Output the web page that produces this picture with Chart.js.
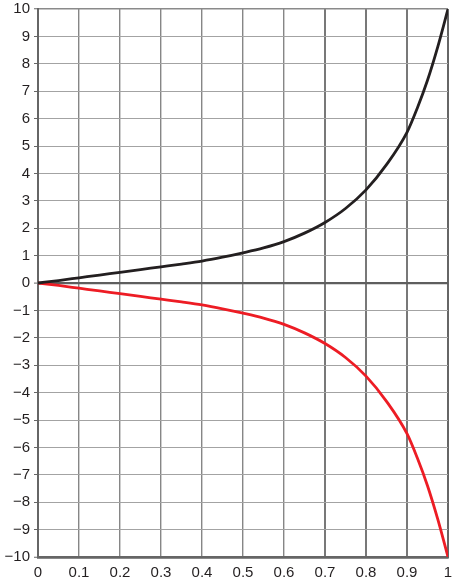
<!DOCTYPE html>
<html>
<head>
<meta charset="utf-8">
<script src="https://cdn.jsdelivr.net/npm/chart.js@4.4.1/dist/chart.umd.min.js"></script>
<style>
    html, body { margin: 0; padding: 0; background: #fff; }
    #wrap { width: 455px; height: 585px; }
</style>
</head>
<body>
<div id="wrap"><canvas id="curveChart" width="455" height="585"></canvas></div>
<script>
// values
const xValues = [0, 0.05, 0.1, 0.15, 0.2, 0.25, 0.3, 0.35, 0.4, 0.45, 0.5, 0.55, 0.6, 0.65, 0.7, 0.75, 0.8, 0.85, 0.9, 0.925, 0.95, 0.975, 1];
const upperValues = [0, 0.09, 0.19, 0.29, 0.39, 0.49, 0.59, 0.69, 0.80, 0.94, 1.10, 1.28, 1.51, 1.82, 2.21, 2.72, 3.40, 4.32, 5.50, 6.38, 7.40, 8.62, 10];
const lowerValues = [0, -0.09, -0.19, -0.29, -0.39, -0.49, -0.59, -0.69, -0.80, -0.94, -1.10, -1.28, -1.51, -1.82, -2.21, -2.72, -3.40, -4.32, -5.50, -6.38, -7.40, -8.62, -10];
const xTickLabels = ['0', '0.1', '0.2', '0.3', '0.4', '0.5', '0.6', '0.7', '0.8', '0.9', '1'];
const yTickLabels = ['10', '9', '8', '7', '6', '5', '4', '3', '2', '1', '0', '\u22121', '\u22122', '\u22123', '\u22124', '\u22125', '\u22126', '\u22127', '\u22128', '\u22129', '\u221210'];

const toPoints = (ys) => xValues.map((x, i) => ({ x, y: ys[i] }));
const font = { family: "'Liberation Sans', Arial, sans-serif", size: 15 };

function xGridColor(ctx) {
    const v = Math.round((ctx.tick?.value ?? 0) * 10);
    if (v === 0 || v === 10) return '#666666';
    if (v >= 7) return '#787878';
    return '#868686';
}
function xGridWidth(ctx) {
    const v = Math.round((ctx.tick?.value ?? 0) * 10);
    if (v === 0 || v === 10) return 2;
    if (v >= 7) return 2;
    return 1.4;
}
function yGridColor(ctx) {
    const v = Math.round(ctx.tick?.value ?? 0);
    if (v === 0 || v === -10) return '#5e5e5e';
    if (v === 10) return '#8a8a8a';
    return '#a3a3a3';
}
function yGridWidth(ctx) {
    const v = Math.round(ctx.tick?.value ?? 0);
    if (v === 0) return 2.2;
    if (v === -10) return 2.5;
    if (v === 10) return 1.5;
    return 1;
}

new Chart(document.getElementById('curveChart').getContext('2d'), {
    type: 'scatter',
    data: {
        datasets: [
            {
                data: toPoints(upperValues),
                showLine: true,
                borderColor: '#231f20',
                borderWidth: 2.8,
                pointRadius: 0,
                cubicInterpolationMode: 'monotone'
            },
            {
                data: toPoints(lowerValues),
                showLine: true,
                borderColor: '#ed1c24',
                borderWidth: 2.8,
                pointRadius: 0,
                cubicInterpolationMode: 'monotone'
            }
        ]
    },
    options: {
        responsive: false,
        animation: false,
        layout: { padding: { top: 9, right: 7, left: 0, bottom: 0 } },
        plugins: { legend: { display: false }, tooltip: { enabled: false } },
        scales: {
            x: {
                type: 'linear',
                min: 0,
                max: 1,
                afterFit: (scale) => {
                    scale.height = 28;
                    scale.paddingLeft = 0;
                    scale.paddingRight = 0;
                },
                ticks: {
                    stepSize: 0.1,
                    autoSkip: false,
                    maxRotation: 0,
                    padding: 7,
                    color: '#231f20',
                    font,
                    callback: (value) => xTickLabels[Math.round(value * 10)]
                },
                grid: { drawTicks: false, color: xGridColor, lineWidth: xGridWidth },
                border: { display: true, color: '#666666', width: 2.5 }
            },
            y: {
                type: 'linear',
                min: -10,
                max: 10,
                afterFit: (scale) => {
                    scale.width = 38;
                    scale.paddingTop = 0;
                    scale.paddingBottom = 0;
                },
                ticks: {
                    stepSize: 1,
                    autoSkip: false,
                    padding: 4,
                    color: '#231f20',
                    font,
                    callback: (value) => yTickLabels[10 - Math.round(value)]
                },
                grid: {
                    drawTicks: true,
                    tickLength: 4,
                    tickColor: '#666666',
                    tickWidth: 1,
                    color: yGridColor,
                    lineWidth: yGridWidth
                },
                border: { display: true, color: '#666666', width: 2 }
            }
        }
    }
});
</script>
</body>
</html>
